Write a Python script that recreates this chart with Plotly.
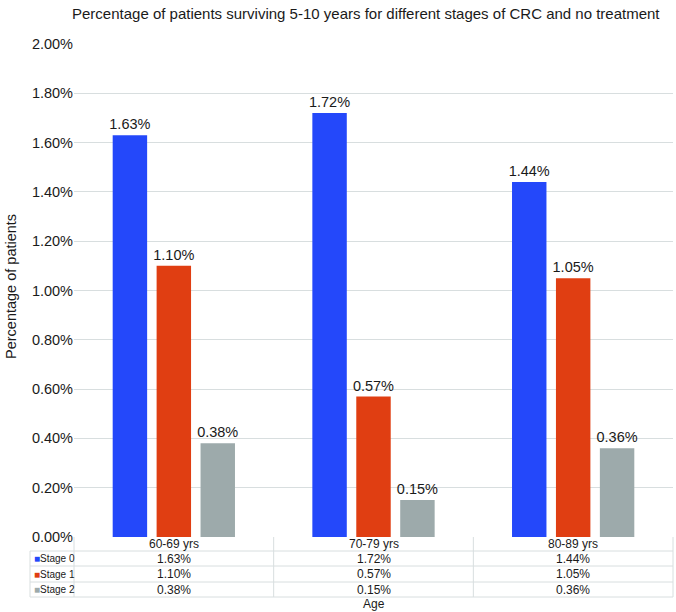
import plotly.graph_objects as go

# ---- data ----
categories = ["60-69 yrs", "70-79 yrs", "80-89 yrs"]
series_names = ["Stage 0", "Stage 1", "Stage 2"]
stage0 = [1.63, 1.72, 1.44]
stage1 = [1.10, 0.57, 1.05]
stage2 = [0.38, 0.15, 0.36]
series_values = [stage0, stage1, stage2]
colors = ["#2448FA", "#E03E12", "#9DAAAB"]

title_text = "Percentage of patients surviving 5-10 years for different stages of CRC and no treatment"
y_title = "Percentage of patients"
x_title = "Age"

W, H = 676, 612
ML, MR, MT, MB = 30, 3, 44, 75
PLOT_L = 74  # px where category area starts
PW = W - ML - MR
PH = H - MT - MB
FONT = "Liberation Sans, Arial, Helvetica, sans-serif"
TXT = "#1a1a1a"
LINE = "#D8DEDF"
FS = 14.5
FT = 12


def px_x(px):
    return (px - ML) / PW


def px_y(py):
    return (H - MB - py) / PH


fig = go.Figure()
for name, vals, col in zip(series_names, series_values, colors):
    fig.add_trace(go.Bar(
        name=name, x=categories, y=vals, marker_color=col, marker_line_width=0,
        text=[f"{v:.2f}%" for v in vals], textposition="outside", constraintext="none",
        textfont=dict(size=FS, color=TXT, family=FONT), cliponaxis=False,
    ))

shapes = []
annotations = []
right = W - MR
col_w = (right - PLOT_L) / len(categories)
row_lines = [551, 566, 582, 597]
table_top = H - MB

for yl in row_lines:
    shapes.append(dict(type="line", xref="paper", yref="paper",
                       x0=px_x(30), x1=px_x(right), y0=px_y(yl), y1=px_y(yl),
                       line=dict(color=LINE, width=1)))
for i in range(len(categories) + 1):
    xv = PLOT_L + i * col_w
    shapes.append(dict(type="line", xref="paper", yref="paper",
                       x0=px_x(xv), x1=px_x(xv), y0=px_y(table_top), y1=px_y(row_lines[-1]),
                       line=dict(color=LINE, width=1)))
shapes.append(dict(type="line", xref="paper", yref="paper",
                   x0=px_x(30), x1=px_x(30), y0=px_y(row_lines[0]), y1=px_y(row_lines[-1]),
                   line=dict(color=LINE, width=1)))

for i, c in enumerate(categories):
    cx = PLOT_L + (i + 0.5) * col_w
    annotations.append(dict(xref="paper", yref="paper", x=px_x(cx), y=px_y(544),
                            text=c, showarrow=False, xanchor="center", yanchor="middle",
                            font=dict(size=FT, color=TXT, family=FONT)))
for r, (name, vals, col) in enumerate(zip(series_names, series_values, colors)):
    y0 = row_lines[r]
    y1 = row_lines[r + 1] if r + 1 < len(row_lines) else row_lines[r] + 15
    ymid = (y0 + y1) / 2
    annotations.append(dict(xref="paper", yref="paper", x=px_x(32), y=px_y(ymid),
                            text=f'<span style="color:{col}">■</span>{name}', showarrow=False,
                            xanchor="left", yanchor="middle",
                            font=dict(size=10, color=TXT, family=FONT)))
    for i, v in enumerate(vals):
        cx = PLOT_L + (i + 0.5) * col_w
        annotations.append(dict(xref="paper", yref="paper", x=px_x(cx), y=px_y(ymid),
                                text=f"{v:.2f}%", showarrow=False, xanchor="center", yanchor="middle",
                                font=dict(size=FT, color=TXT, family=FONT)))

annotations.append(dict(xref="paper", yref="paper", x=px_x(374), y=px_y(604), text=x_title,
                        showarrow=False, xanchor="center", yanchor="middle",
                        font=dict(size=FT, color=TXT, family=FONT)))
annotations.append(dict(xref="paper", yref="paper", x=px_x(11), y=px_y(287), text=y_title,
                        showarrow=False, xanchor="center", yanchor="middle", textangle=-90,
                        font=dict(size=FS, color=TXT, family=FONT)))
annotations.append(dict(xref="paper", yref="paper", x=px_x(366), y=px_y(14), text=title_text,
                        showarrow=False, xanchor="center", yanchor="middle",
                        font=dict(size=15, color=TXT, family=FONT)))

fig.update_layout(
    width=W, height=H,
    margin=dict(l=ML, r=MR, t=MT, b=MB, pad=0),
    paper_bgcolor="white", plot_bgcolor="white",
    barmode="group", bargap=0.34, bargroupgap=0.216,
    showlegend=False,
    font=dict(family=FONT, color=TXT),
    xaxis=dict(domain=[px_x(PLOT_L), 1], showticklabels=False, showgrid=False,
               zeroline=False, showline=False, ticks=""),
    yaxis=dict(range=[0, 2.0], dtick=0.2, tickformat=".2f", ticksuffix="%",
               showgrid=True, gridcolor=LINE, gridwidth=1, zeroline=False, showline=False,
               tickfont=dict(size=FS, color=TXT, family=FONT), ticks=""),
    shapes=shapes, annotations=annotations,
)

fig.write_html("out.html", config={"displayModeBar": False},
               post_script="document.body.style.margin='0';document.body.style.overflow='hidden';")
